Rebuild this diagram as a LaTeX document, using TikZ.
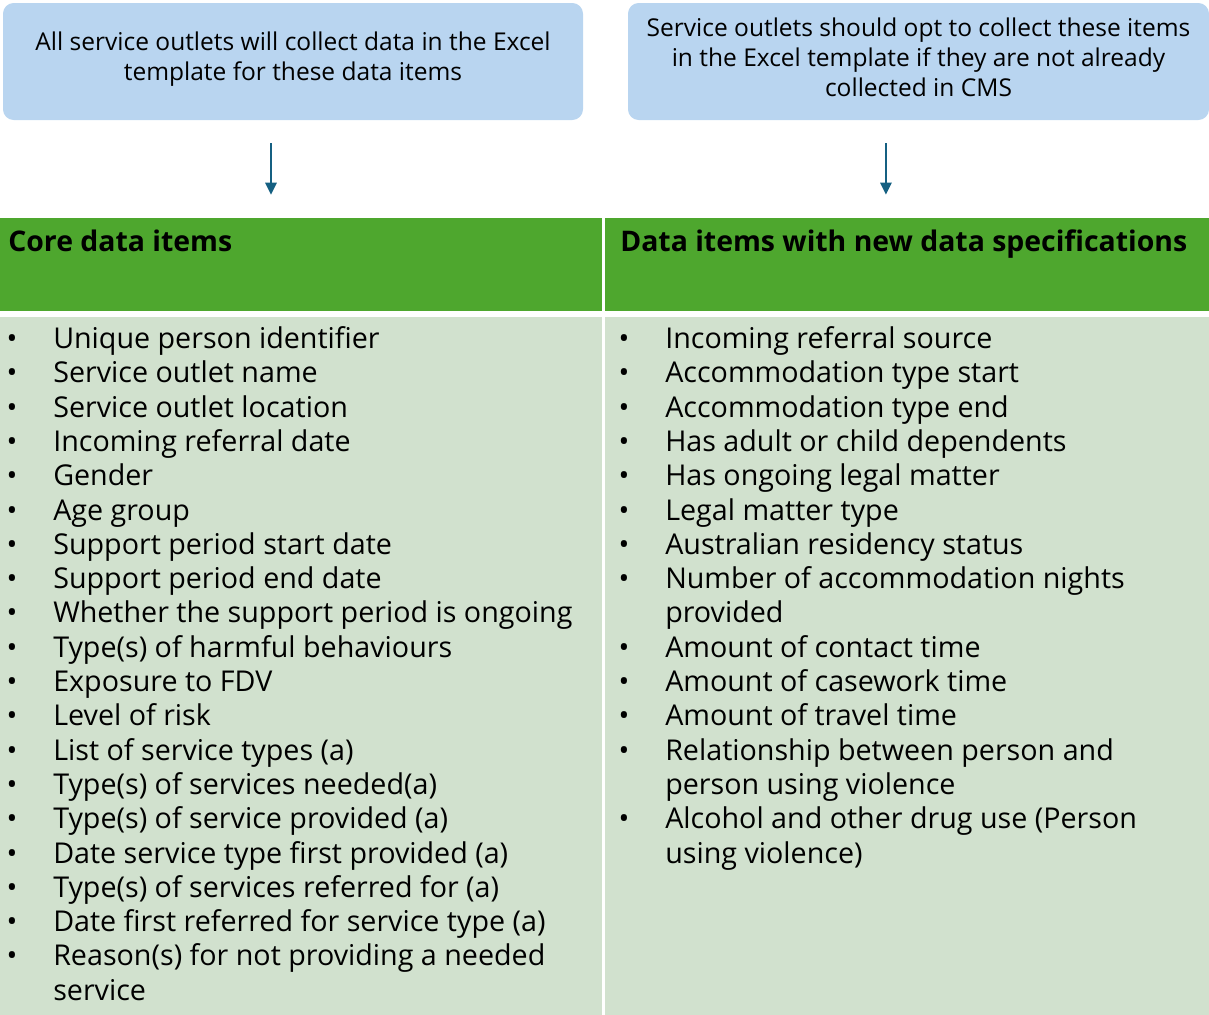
\documentclass[tikz,border=0pt]{standalone}
\usepackage{fontspec}
\setmainfont{Open Sans}
\usetikzlibrary{arrows.meta,positioning}
\definecolor{boxblue}{HTML}{B9D5F0}
\definecolor{headgreen}{HTML}{4EA72E}
\definecolor{bodygreen}{HTML}{D1E1CE}
\definecolor{linkblue}{HTML}{156082}

\begin{document}
\begin{tikzpicture}[x=0.75pt,y=-0.75pt,>={Triangle[length=9pt,width=8.25pt]}]
  \tikzstyle{intro}=[rectangle,rounded corners=8pt,fill=boxblue,
                     minimum width=435pt,minimum height=87.75pt]
  \tikzstyle{introtext}=[align=center,inner sep=0pt,
                         font=\fontsize{18.4}{22.5}\selectfont]
  \tikzstyle{head}=[rectangle,fill=headgreen,minimum width=451.5pt,
                    minimum height=69.75pt,inner sep=0pt]
  \tikzstyle{body}=[rectangle,fill=bodygreen,minimum width=451.5pt,
                    minimum height=523.5pt,inner sep=0pt]
  \tikzstyle{headtext}=[anchor=base west,inner sep=0pt,
                        font=\fontsize{21.3}{26}\selectfont\bfseries]
  \tikzstyle{entry}=[anchor=base west,inner sep=0pt,
                     font=\fontsize{21.5}{25.7}\selectfont]
  \tikzstyle{dot}=[anchor=base,inner sep=0pt,
                   font=\fontsize{21.5}{25.7}\selectfont]
  \tikzstyle{link}=[->,linkblue,line width=1.9pt]
  \useasboundingbox (0,0) rectangle (1209,1014);

  % top notes
  \node [intro] (allbox) at (293,61.5) {};
  \node [intro,minimum width=435.75pt] (optbox) at (918.5,61.5) {};
  \node [introtext] (alltext) at (293,59)
    {All service outlets will collect data in the Excel\\template for these data items};
  \node [introtext] (opttext) at (918.5,57)
    {Service outlets should opt to collect these items\\in the Excel template if they are not already\\collected in CMS};

  % table
  \node [head] (corehead) at (301,264.5) {};
  \node [head,minimum width=453pt] (newhead) at (907,264.5) {};
  \node [body] (corebody) at (301,665.5) {};
  \node [body,minimum width=453pt] (newbody) at (907,665.5) {};
  \node [headtext] (coretitle) at (8,251) {Core data items};
  \node [headtext] (newtitle) at (620,251) {Data items with new data specifications};

  \draw [link] ([xshift=-16.5pt,yshift=-17.25pt]allbox.south)
    -- ([xshift=-16.5pt,yshift=17.25pt]allbox.south |- corehead.north);
  \draw [link] ([xshift=-24.4pt,yshift=-17.25pt]optbox.south)
    -- ([xshift=-24.4pt,yshift=17.25pt]optbox.south |- newhead.north);

  % core items
  \foreach \n/\txt in {0/Unique person identifier,1/Service outlet name,
      2/Service outlet location,3/Incoming referral date,4/Gender,5/Age group,
      6/Support period start date,7/Support period end date,
      8/Whether the support period is ongoing,9/Type(s) of harmful behaviours,
      10/Exposure to FDV,11/Level of risk,12/List of service types (a),
      13/Type(s) of services needed(a),14/Type(s) of service provided (a),
      15/Date service type first provided (a),16/Type(s) of services referred for (a),
      17/Date first referred for service type (a),
      18/Reason(s) for not providing a needed,19/service}
    \node [entry] (core\n) at (53,348.5+34.3*\n) {\txt};
  \foreach \n in {0,...,18}
    \node [dot] (coredot\n) at (12,348.5+34.3*\n) {•};

  % new items
  \foreach \n/\txt in {0/Incoming referral source,1/Accommodation type start,
      2/Accommodation type end,3/Has adult or child dependents,
      4/Has ongoing legal matter,5/Legal matter type,6/Australian residency status,
      7/Number of accommodation nights,8/provided,9/Amount of contact time,
      10/Amount of casework time,11/Amount of travel time,
      12/Relationship between person and,13/person using violence,
      14/Alcohol and other drug use (Person,15/using violence)}
    \node [entry] (new\n) at (665,348.5+34.3*\n) {\txt};
  \foreach \n in {0,...,7,9,10,11,12,14}
    \node [dot] (newdot\n) at (624,348.5+34.3*\n) {•};
\end{tikzpicture}
\end{document}
